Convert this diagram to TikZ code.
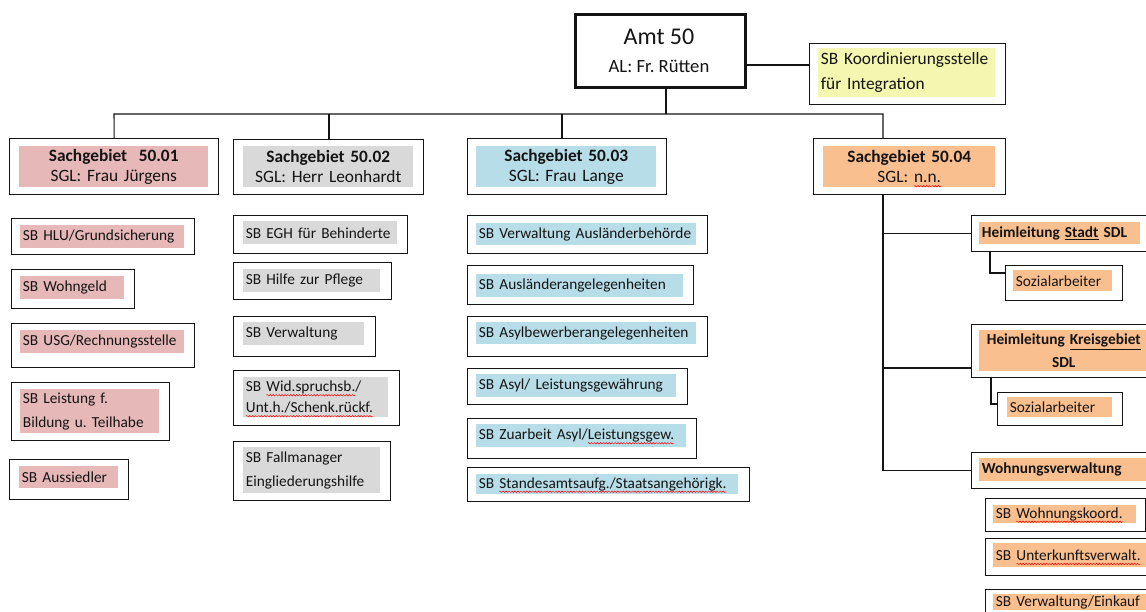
\documentclass[tikz,border=0pt]{standalone}
\usepackage{fontspec}
\setmainfont{Carlito}
\usetikzlibrary{decorations.pathmorphing}
\frenchspacing
\definecolor{cpink}{RGB}{230,184,183}
\definecolor{cgray}{RGB}{217,217,217}
\definecolor{cblue}{RGB}{183,221,232}
\definecolor{corange}{RGB}{250,191,143}
\definecolor{cyellow}{RGB}{243,247,176}
\definecolor{ink}{RGB}{20,20,20}
\newsavebox\rwbox
\newlength\rwlen
\newcommand\rw[1]{\sbox\rwbox{#1}\setlength\rwlen{\wd\rwbox}\leavevmode\rlap{\tikz[baseline=0pt,x=1pt,y=1pt]{\useasboundingbox (0,0); \draw[red, line width=0.35pt, decorate, decoration={snake, amplitude=0.55pt, segment length=2.2pt}] (0,-2.6) -- (\rwlen,-2.6);}}\usebox\rwbox}
\tikzset{
  frame/.style={draw=ink, line width=1pt, inner sep=0pt, fill=white},
  fillbox/.style={inner xsep=2pt, inner ysep=0pt, align=left, text=ink,
    font=\fontsize{11.5}{15}\selectfont\frenchspacing},
  hdr/.style={align=center, font=\fontsize{13}{15}\selectfont\frenchspacing},
  conn/.style={draw=ink, line width=0.8pt},
}
\newcommand\frm[6]{\node[frame, minimum width={(#4-(#2))*0.75pt}, minimum height={(#5-(#3))*0.75pt}, anchor=north west, #6] (#1) at (#2,#3) {};}
\newcommand\fil[7]{\node[fillbox, minimum width={(#4-(#2))*0.75pt}, minimum height={(#5-(#3))*0.75pt}, text width={(#4-(#2))*0.75pt-4pt}, anchor=north west, #6] (#1) at (#2,#3) {#7};}
\begin{document}
\begin{tikzpicture}[x=0.75pt,y=-0.75pt]
\useasboundingbox (0,0) rectangle (1146,611);
\fill[white] (0,0) rectangle (1146,611);
\clip (0,0) rectangle (1146,611);

% top
\frm{amt}{574}{13}{744}{86}{line width=2.4pt}
\node[text=ink, font=\fontsize{18}{20}\selectfont] (amtA) at (659,37) {Amt 50};
\node[text=ink, font=\fontsize{14}{16}\selectfont\frenchspacing] (amtB) at (659,66) {AL: Fr. Rütten};
\frm{koord}{809}{43}{1005}{104}{}
\fil{koordT}{818}{48}{995}{97}{fill=cyellow, font=\fontsize{13}{18.75}\selectfont\frenchspacing}{SB Koordinierungsstelle\\für Integration}
\coordinate (kc) at (744,65);
\draw[conn] (kc -| amt.east) -- (kc -| koord.west);

% bus
\coordinate (busM) at (666,114);
\coordinate (busL) at (114,114);
\coordinate (busR) at (883,114);
\coordinate (b2) at (329,114);
\coordinate (b3) at (562,114);

% column 1
\frm{sg1}{9}{138}{218}{194}{}
\fil{sg1T}{19}{146}{208}{187}{fill=cpink, hdr}{\textbf{Sachgebiet\ \ 50.01}\\SGL: Frau Jürgens}
\frm{b11}{11}{218}{194}{254}{}
\fil{b11T}{20}{225}{184}{248}{fill=cpink}{SB HLU/Grundsicherung}
\frm{b12}{11}{269}{134}{308}{}
\fil{b12T}{20}{276}{124}{299}{fill=cpink}{SB Wohngeld}
\frm{b13}{11}{323}{194}{367}{}
\fil{b13T}{20}{330}{184}{353}{fill=cpink}{SB USG/Rechnungsstelle}
\frm{b14}{11}{382}{169}{440}{}
\fil{b14T}{20}{389}{159}{433}{fill=cpink, font=\fontsize{11.5}{18}\selectfont\frenchspacing}{SB Leistung f.\\Bildung u. Teilhabe}
\frm{b15}{9}{459}{128}{499}{}
\fil{b15T}{19}{466}{118}{488}{fill=cpink}{SB Aussiedler}

% column 2
\frm{sg2}{233}{139}{423}{194}{}
\fil{sg2T}{243}{146}{413}{187}{fill=cgray, hdr}{\textbf{Sachgebiet 50.02}\\SGL: Herr Leonhardt}
\frm{b21}{233}{215}{407}{253}{}
\fil{b21T}{243}{221}{397}{244}{fill=cgray}{SB EGH für Behinderte}
\frm{b22}{233}{262}{391}{299}{}
\fil{b22T}{243}{269}{380}{292}{fill=cgray}{SB Hilfe zur Pflege}
\frm{b23}{233}{316}{375}{356}{}
\fil{b23T}{243}{322}{364}{345}{fill=cgray}{SB Verwaltung}
\frm{b24}{233}{370}{399}{425}{}
\fil{b24T}{243}{377}{388}{417}{fill=cgray, font=\fontsize{11.5}{15.75}\selectfont\frenchspacing}{SB \rw{Wid.spruchsb.}/\\\rw{Unt.h./Schenk.rückf.}}
\frm{b25}{233}{441}{390}{500}{}
\fil{b25T}{243}{447}{380}{493}{fill=cgray, font=\fontsize{11.5}{18}\selectfont\frenchspacing}{SB Fallmanager\\Eingliederungshilfe}

% column 3
\frm{sg3}{467}{138}{666}{194}{}
\fil{sg3T}{476}{146}{656}{187}{fill=cblue, hdr}{\textbf{Sachgebiet 50.03}\\SGL: Frau Lange}
\frm{b31}{467}{215}{707}{253}{}
\fil{b31T}{476}{223}{696}{245}{fill=cblue}{SB Verwaltung Ausländerbehörde}
\frm{b32}{467}{265}{693}{304}{}
\fil{b32T}{476}{274}{683}{297}{fill=cblue}{SB Ausländerangelegenheiten}
\frm{b33}{467}{316}{707}{356}{}
\fil{b33T}{476}{322}{696}{344}{fill=cblue}{SB Asylbewerberangelegenheiten}
\frm{b34}{467}{368}{687}{404}{}
\fil{b34T}{476}{374}{676}{397}{fill=cblue}{SB Asyl/ Leistungsgewährung}
\frm{b35}{467}{418}{696}{458}{}
\fil{b35T}{476}{424}{686}{447}{fill=cblue}{SB Zuarbeit Asyl/\rw{Leistungsgew.}}
\frm{b36}{467}{467}{749}{501}{}
\fil{b36T}{476}{474}{738}{494}{fill=cblue}{SB \rw{Standesamtsaufg./Staatsangehörigk.}}

% column 4
\frm{sg4}{813}{138}{1005}{194}{}
\fil{sg4T}{823}{146}{995}{187}{fill=corange, hdr}{\textbf{Sachgebiet 50.04}\\SGL: \rw{n.n.}}
\frm{hl1}{971}{215}{1170}{251}{}
\fil{hl1T}{979}{222}{1140}{244}{fill=corange}{\textbf{Heimleitung \underline{Stadt} SDL}}
\frm{soz1}{1005}{265}{1122}{300}{}
\fil{soz1T}{1013}{270}{1112}{291}{fill=corange}{Sozialarbeiter}
\frm{hl2}{971}{324}{1170}{377}{}
\fil{hl2T}{979}{330}{1148}{371}{fill=corange, align=center, font=\fontsize{11.5}{17}\selectfont}{\textbf{Heimleitung \underline{Kreisgebiet}}\\\textbf{SDL}}
\frm{soz2}{997}{392}{1122}{425}{}
\fil{soz2T}{1007}{397}{1112}{417}{fill=corange}{Sozialarbeiter}
\frm{wv}{971}{452}{1170}{488}{}
\fil{wvT}{979}{458}{1170}{481}{fill=corange}{\textbf{Wohnungsverwaltung}}
\frm{b41}{985}{498}{1145}{531}{}
\fil{b41T}{993}{505}{1136}{523}{fill=corange}{SB \rw{Wohnungskoord.}}
\frm{b42}{985}{538}{1170}{575}{}
\fil{b42T}{993}{543}{1170}{567}{fill=corange}{SB \rw{Unterkunftsverwalt.}}
\frm{b43}{985}{589}{1170}{640}{}
\fil{b43T}{993}{594}{1170}{610}{fill=corange}{SB Verwaltung/Einkauf}

% connectors
\draw[conn] (amt.south -| busM) -- (busM);
\draw[conn] (sg1.north) -- (busL) -- (busR) -- (busR |- sg4.north);
\draw[conn] (b2) -- (b2 |- sg2.north);
\draw[conn] (b3) -- (b3 |- sg3.north);
\draw[conn] (busR |- sg4.south) -- (busR |- wv.west) -- (wv.west);
\draw[conn] (busR |- hl1.west) -- (hl1.west);
\coordinate (h2b) at (883,368);
\draw[conn] (h2b) -- (h2b -| hl2.west);
\coordinate (s1c) at (990,273);
\draw[conn] (s1c |- hl1.south) -- (s1c) -- (s1c -| soz1.west);
\coordinate (s2c) at (991,404);
\draw[conn] (s2c |- hl2.south) -- (s2c) -- (s2c -| soz2.west);
\end{tikzpicture}
\end{document}
